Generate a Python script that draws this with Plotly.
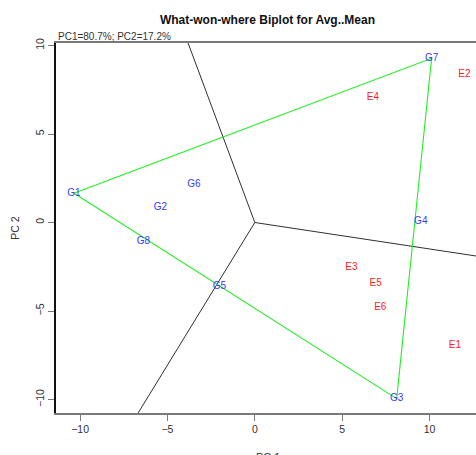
import plotly.graph_objects as go

# Genotype scores (PC1, PC2)
genotypes = ["G1", "G2", "G3", "G4", "G5", "G6", "G7", "G8"]
g_pc1 = [-10.35, -5.41, 8.12, 9.50, -2.03, -3.49, 10.12, -6.37]
g_pc2 = [1.65, 0.86, -9.95, 0.03, -3.63, 2.12, 9.28, -1.08]

# Environment scores (PC1, PC2)
environments = ["E1", "E2", "E3", "E4", "E5", "E6"]
e_pc1 = [11.45, 12.00, 5.53, 6.76, 6.92, 7.18]
e_pc2 = [-6.96, 8.37, -2.53, 7.07, -3.47, -4.79]

# Vertex genotypes of the polygon, in drawing order
hull = ["G1", "G7", "G3"]

# Sector boundaries: rays from the origin, given by a point on each ray
sector_pc1 = [-3.82, 12.65, -6.68]
sector_pc2 = [10.14, -1.89, -10.76]

title_text = "What-won-where Biplot for Avg..Mean"
subtitle_text = "PC1=80.7%; PC2=17.2%"

FONT = "Liberation Sans, Arial, sans-serif"

fig = go.Figure()

# sector lines
for sx, sy in zip(sector_pc1, sector_pc2):
    fig.add_trace(go.Scatter(
        x=[0, sx * 1.3], y=[0, sy * 1.3], mode="lines",
        line=dict(color="#303030", width=1), hoverinfo="skip", showlegend=False))

# polygon joining the vertex genotypes
idx = [genotypes.index(g) for g in hull] + [genotypes.index(hull[0])]
fig.add_trace(go.Scatter(
    x=[g_pc1[i] for i in idx], y=[g_pc2[i] for i in idx], mode="lines",
    line=dict(color="#22ee22", width=1.1), hoverinfo="skip", showlegend=False))

# genotype labels
fig.add_trace(go.Scatter(
    x=g_pc1, y=g_pc2, mode="text", text=genotypes,
    textfont=dict(family=FONT, size=10, color="#3a3aff"),
    textposition="middle center", showlegend=False))

# environment labels
fig.add_trace(go.Scatter(
    x=e_pc1, y=e_pc2, mode="text", text=environments,
    textfont=dict(family=FONT, size=10, color="#ff2020"),
    textposition="middle center", showlegend=False))

fig.update_layout(
    width=476, height=455,
    margin=dict(l=56, r=0, t=43, b=42),
    paper_bgcolor="white", plot_bgcolor="white",
    font=dict(family=FONT, size=10.5, color="#333333"),
    title=dict(text="<b>" + title_text + "</b>", x=267.5 / 476, xanchor="center",
               y=1 - 20 / 455, yanchor="middle", yref="container",
               font=dict(family=FONT, size=12, color="#111111")),
    annotations=[
        dict(text=subtitle_text, xref="paper", yref="paper", x=0, y=1,
             xanchor="left", yanchor="bottom", showarrow=False, yshift=-1,
             font=dict(family=FONT, size=10, color="#333333")),
        dict(text="PC 1", xref="paper", yref="paper", x=(267.5 - 56) / 420, y=0,
             xanchor="center", yanchor="top", showarrow=False, yshift=-36,
             font=dict(family=FONT, size=11, color="#333333")),
    ],
    xaxis=dict(range=[-11.38, 12.66], tickvals=[-10, -5, 0, 5, 10],
               showgrid=False, zeroline=False,
               showline=True, mirror=True, linecolor="#7a7a7a", linewidth=1.6,
               ticks="outside", ticklen=6, tickcolor="#7a7a7a", tickwidth=1,
               tickfont=dict(family=FONT, size=10.5, color="#333333")),
    yaxis=dict(range=[-10.76, 10.14], tickvals=[-10, -5, 0, 5, 10],
               showgrid=False, zeroline=False,
               showline=True, mirror=False, linecolor="#111111", linewidth=1.6,
               ticks="outside", ticklen=6, tickcolor="#7a7a7a", tickwidth=1,
               tickangle=-90,
               tickfont=dict(family=FONT, size=10.5, color="#333333"),
               title=dict(text="PC 2", standoff=12,
                          font=dict(family=FONT, size=10.5, color="#333333"))),
)

fig.write_html("out.html")
